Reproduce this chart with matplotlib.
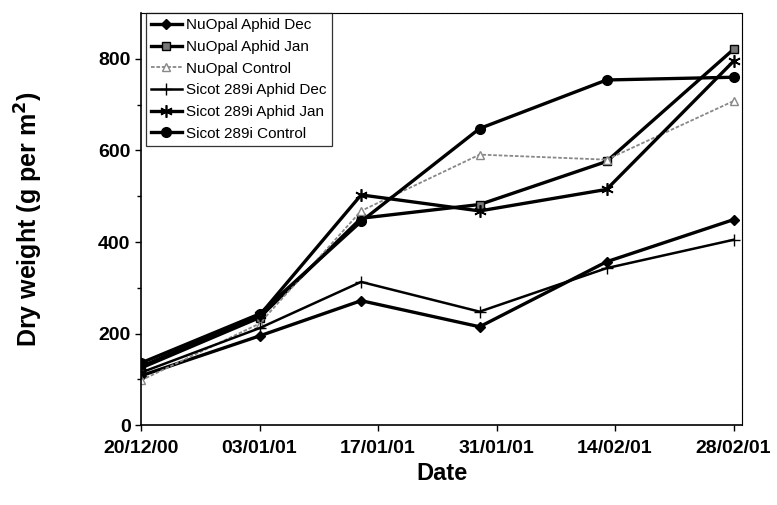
import datetime as dt

import matplotlib
matplotlib.use("Agg")
import matplotlib.pyplot as plt
import matplotlib.dates as mdates

plt.rcParams["font.family"] = ["Liberation Sans", "DejaVu Sans"]

# sampling dates
dates = [
    dt.date(2000, 12, 20),
    dt.date(2001, 1, 3),
    dt.date(2001, 1, 15),
    dt.date(2001, 1, 29),
    dt.date(2001, 2, 13),
    dt.date(2001, 2, 28),
]

# dry weight, g per m^2
nuopal_aphid_dec = [108, 195, 272, 215, 357, 449]
nuopal_aphid_jan = [125, 235, 452, 482, 576, 821]
nuopal_control = [98, 222, 468, 591, 580, 708]
sicot_aphid_dec = [115, 212, 313, 248, 343, 405]
sicot_aphid_jan = [128, 240, 503, 468, 515, 795]
sicot_control = [136, 243, 445, 648, 754, 760]

tick_dates = [dt.date(2000, 12, 20) + dt.timedelta(days=14 * i) for i in range(6)]

fig = plt.figure(figsize=(7.77, 5.05), dpi=100)
ax = fig.add_axes([0.1815, 0.158, 0.7735, 0.816])

ax.plot(dates, nuopal_aphid_dec, color="black", lw=2.4, marker="D", ms=5,
        label="NuOpal Aphid Dec")
ax.plot(dates, nuopal_aphid_jan, color="black", lw=2.4, marker="s", ms=6,
        mfc="#777777", mec="black", label="NuOpal Aphid Jan")
ax.plot(dates, nuopal_control, color="#888888", lw=1.3, ls=(0, (2, 1)),
        marker="^", ms=6, mfc="white", mec="#888888", label="NuOpal Control")
ax.plot(dates, sicot_aphid_dec, color="black", lw=1.8, marker="+", ms=8,
        mew=1.0, label="Sicot 289i Aphid Dec")
ax.plot(dates, sicot_aphid_jan, color="black", lw=2.4, marker=(6, 2, 0), ms=9,
        mew=1.2, label="Sicot 289i Aphid Jan")
ax.plot(dates, sicot_control, color="black", lw=2.4, marker="o", ms=7,
        label="Sicot 289i Control")

ax.set_xlim(dt.date(2000, 12, 20), dt.date(2001, 3, 1))
ax.set_ylim(0, 900)
ax.set_xticks(tick_dates)
ax.xaxis.set_major_formatter(mdates.DateFormatter("%d/%m/%y"))
ax.set_yticks([0, 200, 400, 600, 800])
ax.set_yticks([100, 300, 500, 700], minor=True)

ax.tick_params(axis="both", direction="out", labelsize=14, length=4, width=1)
ax.tick_params(axis="y", which="minor", length=3, width=1)
ax.tick_params(axis="x", pad=7)
for lbl in ax.get_xticklabels() + ax.get_yticklabels():
    lbl.set_fontweight("bold")

for side in ["left", "bottom"]:
    ax.spines[side].set_linewidth(1.2)
for side in ["top", "right"]:
    ax.spines[side].set_linewidth(0.8)
    ax.spines[side].set_linestyle((0, (1, 0.5)))

ax.set_xlabel("Date", fontsize=17, fontweight="bold", labelpad=3)
ax.set_ylabel("Dry weight (g per m$^\\mathbf{2}$)", fontsize=18,
              fontweight="bold", labelpad=38)

leg = ax.legend(loc="upper left", bbox_to_anchor=(0.008, 1.0), fontsize=11,
                frameon=True, fancybox=False, edgecolor="black",
                handlelength=2.0, handletextpad=0.3, borderpad=0.35,
                labelspacing=0.5, borderaxespad=0.0)
leg.get_frame().set_linewidth(0.9)

fig.savefig("out.png", dpi=100)
